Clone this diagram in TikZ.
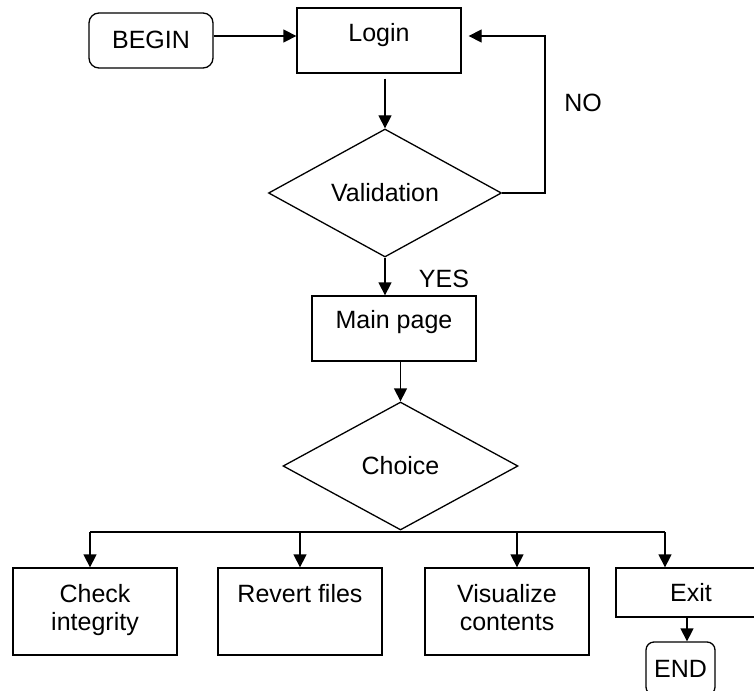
\documentclass[tikz,border=0pt]{standalone}
\usepackage{fontspec}
\setmainfont{Liberation Sans}
\usetikzlibrary{shapes.geometric,arrows.meta}
\begin{document}
\begin{tikzpicture}[x=1pt,y=-1pt,
  every node/.style={font=\fontsize{25}{27.5}\selectfont, inner sep=0pt},
  line/.style={line width=1.3pt, draw=black},
  arr/.style={line, -{Triangle[length=13pt,width=13pt]}},
  procbox/.style={draw, line width=1.3pt, rectangle, align=center},
  termbox/.style={draw, line width=1.3pt, rectangle, rounded corners=10pt, text height=18pt, text depth=1pt},
  decision/.style={draw, line width=1.3pt, diamond, aspect=1.8, text height=18pt, text depth=1pt},
  lbl/.style={text height=18pt, text depth=1pt}
]
\useasboundingbox (0,0) rectangle (754,690);

% nodes
\node[termbox, minimum width=124pt, minimum height=55pt] (begin) at (151,40.5) {BEGIN};
\node[procbox, minimum width=164pt, minimum height=65pt, text height=18pt, text depth=15pt] (login) at (379,40.5) {Login};
\node[decision, minimum width=233pt, minimum height=128pt] (val) at (385,193) {Validation};
\node[procbox, minimum width=164pt, minimum height=65pt, text height=18pt, text depth=19pt] (main) at (394,328.5) {Main page};
\node[decision, minimum width=235pt, minimum height=128pt] (choice) at (400.5,466) {Choice};

\node[procbox, minimum width=164pt, minimum height=87pt, text depth=8pt] (check) at (95,611.5) {Check\\integrity};
\node[procbox, minimum width=164pt, minimum height=87pt, text height=18pt, text depth=37pt] (revert) at (300,611.5) {Revert files};
\node[procbox, minimum width=164pt, minimum height=87pt, text depth=8pt] (vis) at (507,611.5) {Visualize\\contents};
\node[procbox, minimum width=150pt, minimum height=49pt, text height=18pt, text depth=1pt] (exit) at (691,592.5) {Exit};
\node[termbox, rounded corners=8pt, minimum width=69pt, minimum height=53pt] (endn) at (680.5,668.5) {END};

\node[lbl] (yes) at (444,278.5) {YES};
\node[lbl] (no) at (583,103) {NO};

% coordinates
\coordinate (fb) at (545,36);
\coordinate (busL) at (90,532);
\coordinate (bus2) at (300,532);
\coordinate (bus3) at (517,532);
\coordinate (busR) at (665,532);

% connectors
\draw[arr] ([shift={(0,-4.5)}]begin.east) -- ([shift={(0,-4.5)}]login.west);
\draw[arr] ([shift={(6,5)}]login.south) -- (val.north);
\draw[arr] (val.east) -| (fb) -- ([shift={(7,-4.5)}]login.east);
\draw[arr] (val.south) -- (val.south |- main.north);
\draw[arr] (main.south -| choice.north) -- (choice.north);

\draw[line] (busL) -- (busR);
\draw[arr] (busL) -- (busL |- check.north);
\draw[arr] (bus2) -- (bus2 |- revert.north);
\draw[arr] (bus3) -- (bus3 |- vis.north);
\draw[arr] (busR) -- (busR |- exit.north);
\draw[arr] ([xshift=-4pt]exit.south) -- ([xshift=-4pt]exit.south |- endn.north);
\end{tikzpicture}
\end{document}
